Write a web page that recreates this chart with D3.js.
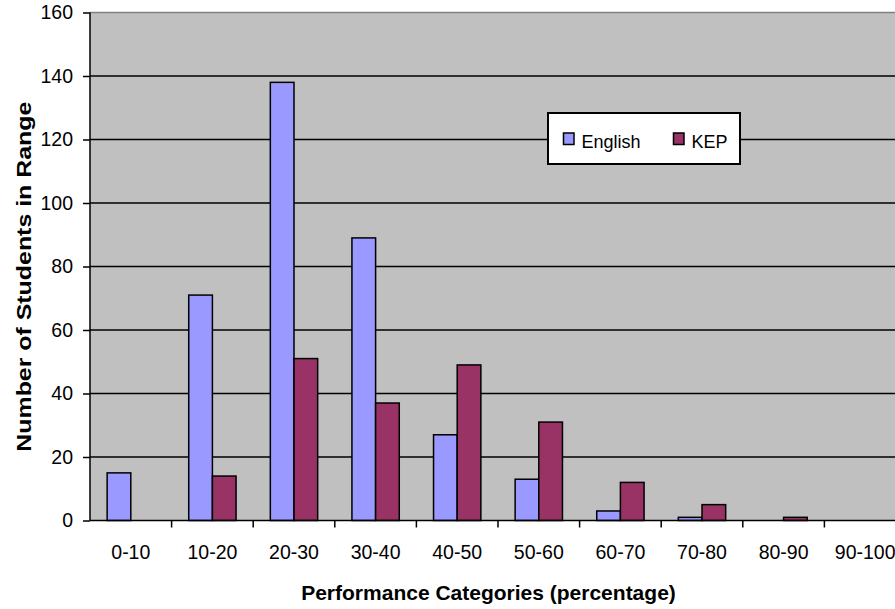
<!DOCTYPE html>
<html>
<head>
<meta charset="utf-8">
<script src="https://cdn.jsdelivr.net/npm/d3@7"></script>
<style>
  html, body { margin: 0; padding: 0; background: #fff; }
  svg { display: block; }
  text { font-family: "Liberation Sans", Arial, sans-serif; fill: #000; }
</style>
</head>
<body>
<svg id="chart" width="895" height="609"></svg>
<script>
// Score bands and student counts per band
const categories = ["0-10", "10-20", "20-30", "30-40", "40-50", "50-60", "60-70", "70-80", "80-90", "90-100"];
const seriesNames = ["English", "KEP"];
const englishCounts = [15, 71, 138, 89, 27, 13, 3, 1, 0, 0];
const kepCounts = [0, 14, 51, 37, 49, 31, 12, 5, 1, 0];
const yTicks = [0, 20, 40, 60, 80, 100, 120, 140, 160];
const seriesColors = { English: "#9999FF", KEP: "#993366" };

const svg = d3.select("#chart");

const plot = { left: 90, right: 906, top: 12.5, bottom: 520.5 };

const x = d3.scaleBand().domain(categories).range([plot.left, plot.right]).paddingInner(0).paddingOuter(0);
const xSeries = d3.scaleBand().domain(seriesNames).range([0, x.bandwidth()]).paddingInner(0).paddingOuter(0.724);
const y = d3.scaleLinear().domain([0, 160]).range([plot.bottom, plot.top]);

// Plot background
svg.append("rect")
  .attr("x", plot.left).attr("y", plot.top)
  .attr("width", plot.right - plot.left).attr("height", plot.bottom - plot.top)
  .attr("fill", "#C0C0C0");

// Top border of the plot area
svg.append("line")
  .attr("x1", plot.left).attr("x2", plot.right)
  .attr("y1", plot.top).attr("y2", plot.top)
  .attr("stroke", "#808080").attr("stroke-width", 1.3);

// Horizontal gridlines
svg.append("g")
  .selectAll("line")
  .data(yTicks.filter(d => d > 0 && d < 160))
  .join("line")
  .attr("x1", plot.left).attr("x2", plot.right)
  .attr("y1", d => y(d)).attr("y2", d => y(d))
  .attr("stroke", "#000").attr("stroke-width", 1.4);

// Bars
const rows = categories.map((c, i) => ({ cat: c, English: englishCounts[i], KEP: kepCounts[i] }));
const groups = svg.append("g")
  .selectAll("g")
  .data(rows)
  .join("g")
  .attr("transform", d => `translate(${x(d.cat)},0)`);

groups.selectAll("rect")
  .data(d => seriesNames.map(s => ({ s, v: d[s] })).filter(e => e.v > 0))
  .join("rect")
  .attr("x", d => xSeries(d.s))
  .attr("y", d => y(d.v))
  .attr("width", xSeries.bandwidth())
  .attr("height", d => y(0) - y(d.v))
  .attr("fill", d => seriesColors[d.s])
  .attr("stroke", "#000")
  .attr("stroke-width", 1.5);

// Y axis
const yAxis = d3.axisLeft(y).tickValues(yTicks).tickSize(7).tickPadding(10);
const yg = svg.append("g")
  .attr("transform", `translate(${plot.left},0)`)
  .call(yAxis);
yg.select(".domain").attr("stroke", "#000").attr("stroke-width", 1.5).attr("d", `M0,${plot.top}V${plot.bottom}`);
yg.selectAll(".tick line").attr("stroke", "#000").attr("stroke-width", 1.5);
yg.selectAll(".tick text")
  .attr("font-size", 19.5)
  .attr("font-family", "Liberation Sans, Arial, sans-serif")
  .attr("fill", "#000");

// X axis
const xAxis = d3.axisBottom(x).tickSize(0).tickPadding(25);
const xg = svg.append("g")
  .attr("transform", `translate(0,${plot.bottom})`)
  .call(xAxis);
xg.select(".domain").attr("stroke", "#000").attr("stroke-width", 1.5).attr("d", `M${plot.left},0H${plot.right}`);
xg.selectAll(".tick text")
  .attr("font-size", 19.5)
  .attr("font-family", "Liberation Sans, Arial, sans-serif")
  .attr("fill", "#000");

// Tick marks between categories
xg.append("g")
  .selectAll("line")
  .data(categories.slice(1))
  .join("line")
  .attr("x1", d => x(d)).attr("x2", d => x(d))
  .attr("y1", 0).attr("y2", 7)
  .attr("stroke", "#000").attr("stroke-width", 1.5);

// Axis titles
svg.append("text")
  .attr("x", 488.5).attr("y", 600)
  .attr("text-anchor", "middle")
  .attr("font-size", 21)
  .attr("font-weight", "bold")
  .text("Performance Categories (percentage)");

svg.append("text")
  .attr("transform", "translate(31,276.7) rotate(-90)")
  .attr("text-anchor", "middle")
  .attr("font-size", 21)
  .attr("font-weight", "bold")
  .attr("textLength", 350)
  .attr("lengthAdjust", "spacingAndGlyphs")
  .text("Number of Students in Range");

// Legend
const legend = svg.append("g").attr("transform", "translate(548,113)");
legend.append("rect")
  .attr("x", 0).attr("y", 0).attr("width", 192).attr("height", 51)
  .attr("fill", "#fff").attr("stroke", "#000").attr("stroke-width", 2);
const legendItems = legend.selectAll("g.item")
  .data(seriesNames)
  .join("g")
  .attr("class", "item")
  .attr("transform", (d, i) => `translate(${i === 0 ? 15.5 : 125.5},20)`);
legendItems.append("rect")
  .attr("width", 10.5).attr("height", 11.5)
  .attr("fill", d => seriesColors[d])
  .attr("stroke", "#000").attr("stroke-width", 1.5);
legendItems.append("text")
  .attr("x", 18).attr("y", 15)
  .attr("font-size", 18)
  .text(d => d);
</script>
</body>
</html>
